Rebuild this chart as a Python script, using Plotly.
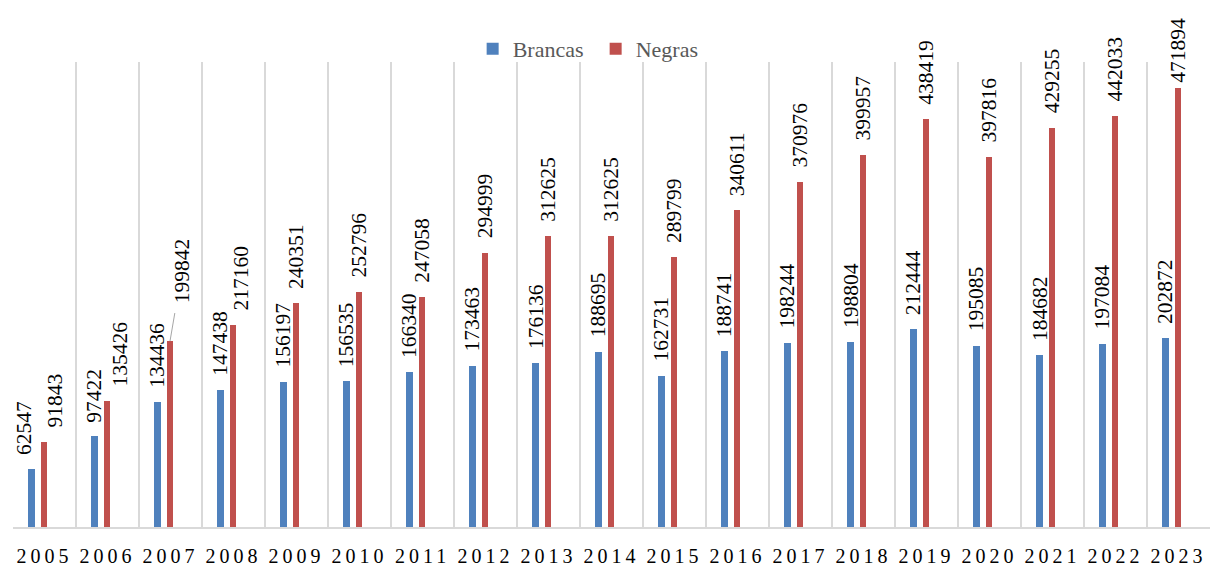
import plotly.graph_objects as go

years = ["2005", "2006", "2007", "2008", "2009", "2010", "2011", "2012", "2013", "2014",
         "2015", "2016", "2017", "2018", "2019", "2020", "2021", "2022", "2023"]
brancas = [62547, 97422, 134436, 147438, 156197, 156535, 166340, 173463, 176136, 188695,
           162731, 188741, 198244, 198804, 212444, 195085, 184682, 197084, 202872]
negras = [91843, 135426, 199842, 217160, 240351, 252796, 247058, 294999, 312625, 312625,
          289799, 340611, 370976, 399957, 438419, 397816, 429255, 442033, 471894]

FONT = "'Liberation Serif', 'Times New Roman', Times, serif"
BLUE = "#4f81bd"
RED = "#c0504d"
GRID = "#d9d9d9"
BAR_W = 0.11
LABEL_SIZE = 21.5
series = [
    ("Brancas", brancas, BLUE, -0.265),
    ("Negras", negras, RED, -0.063),
]
# manual label nudges (pixels) as in the original chart
nudge_x = {("Brancas", 0): -7, ("Negras", 0): 11, ("Negras", 1): 13, ("Negras", 3): 8}
gap_y = {("Negras", 18): 3}
leader = {("Negras", 2): (12, -70)}

idx = list(range(len(years)))
fig = go.Figure()
annotations = []
for name, vals, color, off in series:
    fig.add_trace(go.Bar(x=idx, y=vals, name=name, width=BAR_W, offset=off,
                         marker=dict(color=color, line=dict(width=0))))
    for i, v in enumerate(vals):
        xc = i + off + BAR_W / 2
        if (name, i) in leader:
            ax, ay = leader[(name, i)]
            annotations.append(dict(x=xc, y=v, xref="x", yref="y", text=str(v), textangle=-90,
                                    showarrow=True, arrowhead=0, arrowwidth=1, arrowcolor="#a6a6a6",
                                    ax=ax, ay=ay, startstandoff=8,
                                    font=dict(family=FONT, size=LABEL_SIZE, color="black")))
        else:
            annotations.append(dict(x=xc, y=v, xref="x", yref="y", text=str(v), textangle=-90,
                                    showarrow=False, xanchor="center", yanchor="bottom",
                                    yshift=gap_y.get((name, i), 12), xshift=nudge_x.get((name, i), 0),
                                    font=dict(family=FONT, size=LABEL_SIZE, color="black")))

fig.update_layout(
    width=1210, height=567,
    margin=dict(l=13, r=0, t=62, b=36),
    plot_bgcolor="white", paper_bgcolor="white",
    font=dict(family=FONT, color="black"),
    showlegend=True,
    legend=dict(orientation="h", x=0.384, xanchor="left", y=1.028, yanchor="middle",
                entrywidth=78, entrywidthmode="pixels",
                font=dict(family=FONT, size=22, color="#595959"), bgcolor="rgba(0,0,0,0)"),
    annotations=annotations,
    bargap=0,
)
fig.update_xaxes(range=[-0.5, 18.5], tickvals=idx, ticktext=years, showgrid=False, zeroline=False,
                 showline=True, linecolor=GRID, linewidth=1.5, ticks="",
                 tickfont=dict(family=FONT, size=20, color="black"), ticklabelstandoff=10,
                 minor=dict(tickvals=[i - 0.5 for i in range(len(years) + 1)], showgrid=True,
                            gridcolor=GRID, gridwidth=1.5, ticks=""))
fig.update_yaxes(range=[0, 500000], visible=False, showgrid=False)

post = ("var s=document.createElement('style');"
        "s.textContent='html,body{margin:0;padding:0;overflow:hidden}.xtick text{letter-spacing:4px}';"
        "document.head.appendChild(s);")
fig.write_html("out.html", post_script=post, config={"displayModeBar": False})
